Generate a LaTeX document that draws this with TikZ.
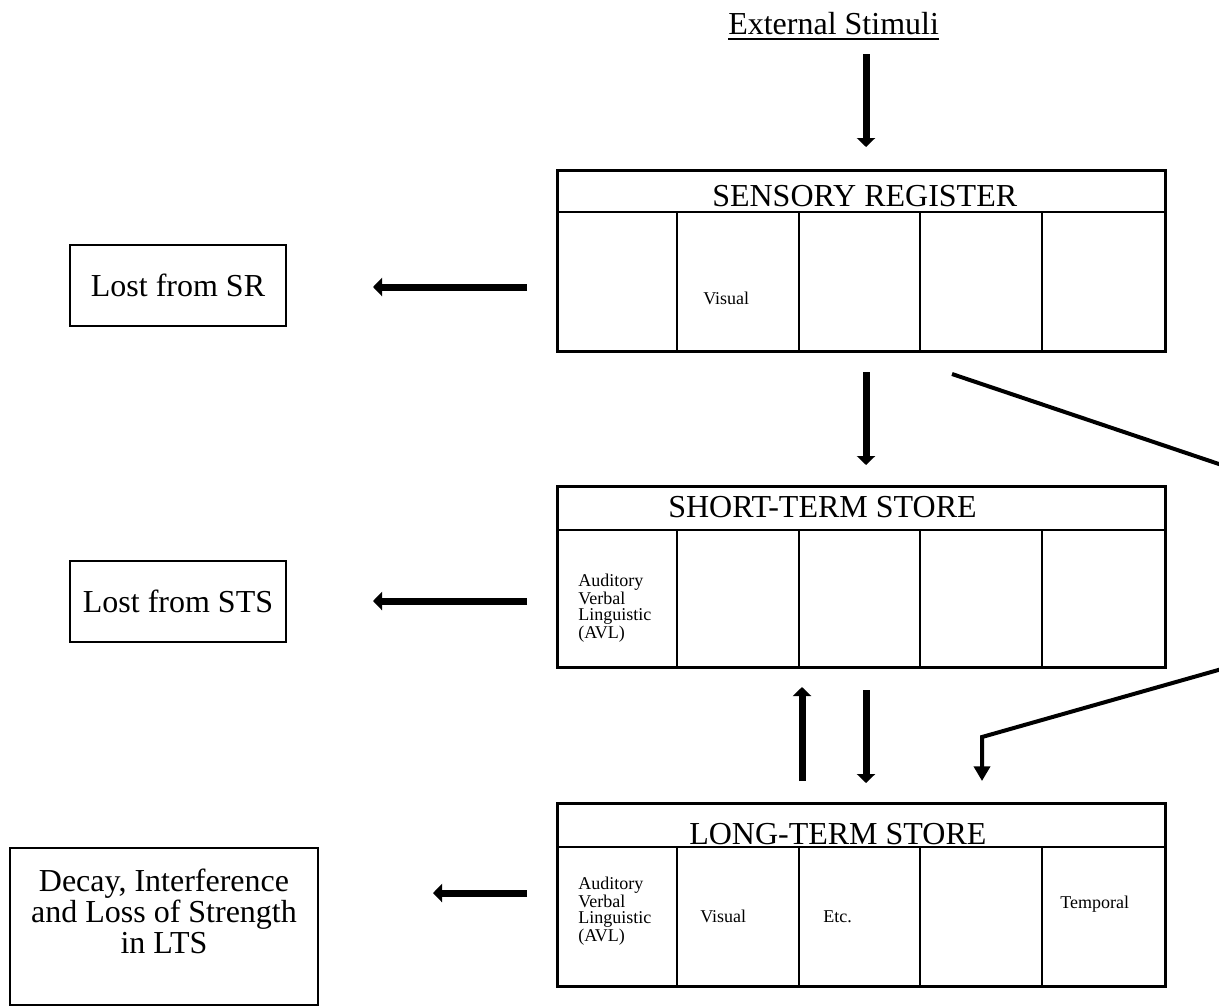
\documentclass[tikz,border=0pt]{standalone}
\usepackage{fontspec}
\setmainfont{Liberation Serif}
\usetikzlibrary{arrows.meta}
\begin{document}
\begin{tikzpicture}[x=0.75pt,y=-0.75pt,
  big/.style={font=\fontsize{24}{27}\selectfont, inner sep=0pt},
  small/.style={font=\fontsize{13.5}{12.2}\selectfont, align=left, inner sep=0pt},
  store/.style={draw, line width=2.2pt, inner sep=0pt, minimum width=456pt},
  cell/.style={line width=1.1pt},
  lostbox/.style={draw, line width=1.5pt, inner sep=0pt},
  losttext/.style={font=\fontsize{24}{23.25}\selectfont, align=center, inner sep=0pt},
  flow/.style={line width=5.25pt, -{Triangle[width=13.5pt,length=6.75pt]}},
  route/.style={line width=3pt, line join=miter, -{Triangle[width=12pt,length=11pt]}}]
\useasboundingbox (0,0) rectangle (1219,1007);
\clip (0,0) rectangle (1219,1007);

% external stimuli
\node[big, anchor=base west] (es) at (728,34) {External Stimuli};
\draw[line width=1.2pt] ([yshift=-3.6pt]es.base west) -- ([yshift=-3.6pt]es.base east);

% sensory register
\node[store, anchor=north west, minimum height=135.75pt] (sr) at (556,169) {};
\draw[cell] (556,212) -- (1164,212);
\foreach \x in {677,799,920,1042} \draw[cell] (\x,212) -- (\x,350);
\node[big, anchor=base west] (srt) at (712,206) {SENSORY REGISTER};
\node[small, anchor=base west] (srv) at (703,304) {Visual};

% short-term store
\node[store, anchor=north west, minimum height=135.75pt] (sts) at (556,485) {};
\draw[cell] (556,530) -- (1164,530);
\foreach \x in {677,799,920,1042} \draw[cell] (\x,530) -- (\x,666);
\node[big, anchor=base west] (stst) at (668,517) {SHORT-TERM STORE};
\node[small, anchor=north west] (stsa) at (578,574) {Auditory\\Verbal\\Linguistic\\(AVL)};

% long-term store
\node[store, anchor=north west, minimum height=137.25pt] (lts) at (556,802) {};
\draw[cell] (556,847) -- (1164,847);
\foreach \x in {677,799,920,1042} \draw[cell] (\x,847) -- (\x,985);
\node[big, anchor=base west] (ltst) at (689,844) {LONG-TERM STORE};
\node[small, anchor=north west] (ltsa) at (578,877) {Auditory\\Verbal\\Linguistic\\(AVL)};
\node[small, anchor=base west] (ltsv) at (700,922) {Visual};
\node[small, anchor=base west] (ltse) at (823,922) {Etc.};
\node[small, anchor=base west] (ltstp) at (1060,908) {Temporal};

% lost boxes
\node[lostbox, minimum width=162pt, minimum height=60.75pt] (lsr) at (178,285.5) {};
\node[losttext] (lsrt) at (lsr.center) {Lost from SR};
\node[lostbox, minimum width=162pt, minimum height=60.75pt] (lsts) at (178,601.5) {};
\node[losttext] (lstst) at (lsts.center) {Lost from STS};
\node[lostbox, minimum width=231pt, minimum height=117.75pt] (llts) at (164,926) {};
\node[losttext] (lltst) at (164,911) {Decay, Interference\\and Loss of Strength\\in LTS};

% arrow end points
\coordinate (a1s) at (866,54);   \coordinate (a1e) at (866,147);
\coordinate (a2s) at (866,372);  \coordinate (a2e) at (866,465);
\coordinate (a3s) at (802,781);  \coordinate (a3e) at (802,687);
\coordinate (a4s) at (866,690);  \coordinate (a4e) at (866,783);
\coordinate (l1s) at (527,287);  \coordinate (l1e) at (373,287);
\coordinate (l2s) at (527,601);  \coordinate (l2e) at (373,601);
\coordinate (l3s) at (527,893);  \coordinate (l3e) at (433,893);
\coordinate (r0) at (952,374);   \coordinate (r1) at (1250,474.5);
\coordinate (r2) at (1250,661);  \coordinate (r3) at (982,737);
\coordinate (r4) at (982,781);

\draw[flow] (a1s) -- (a1e);
\draw[flow] (a2s) -- (a2e);
\draw[flow] (a3s) -- (a3e);
\draw[flow] (a4s) -- (a4e);
\draw[flow] (l1s) -- (l1e);
\draw[flow] (l2s) -- (l2e);
\draw[flow] (l3s) -- (l3e);
\draw[route] (r0) -- (r1) -- (r2) -- (r3) -- (r4);
\end{tikzpicture}
\end{document}
